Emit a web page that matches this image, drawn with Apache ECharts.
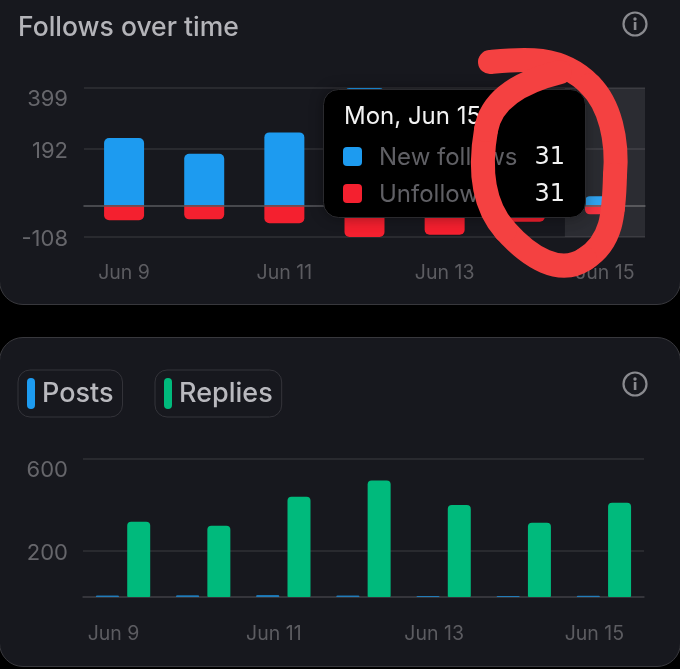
<!DOCTYPE html>
<html>
<head>
<meta charset="utf-8">
<style>
html,body{margin:0;padding:0;background:#000;width:680px;height:669px;overflow:hidden}
.card{position:absolute;left:-1px;width:680px;background:#17181e;border:1px solid #38383d;border-radius:24px;box-sizing:content-box}
#main{position:absolute;left:0;top:0;width:680px;height:669px}
</style>
<script src="https://cdn.jsdelivr.net/npm/echarts@6/dist/echarts.min.js"></script>
</head>
<body>
<div class="card" style="top:-40px;height:343px"></div>
<div class="card" style="top:337px;height:328px"></div>
<div id="main"></div>
<script>
const categories = ['Jun 9','Jun 10','Jun 11','Jun 12','Jun 13','Jun 14','Jun 15'];
const newFollows = [229,175,248,399,260,190,31];
const unfollows  = [-51,-48,-61,-108,-100,-56,-31];
const posts   = [6,8,9,6,4,4,5];
const replies = [327,310,436,506,400,323,410];
const followTicks = [-108,192,399];
const activityGridTicks = [0,200,600];
const activityLabelTicks = [200,600];
const tooltipDate = 'Mon, Jun 15';
const hoverIndex = 6;

const FONT = 'Inter';
const BLUE = '#1d9bf0', RED = '#f4202f', GREEN = '#00ba7c';
const ink = '#66666b', xink = '#5c5c61', line = '#313136';

const tipText = (x, y, text, fill, extra) => ({type:'text', z:101, x, y, style:Object.assign({
  text, fill, font:'400 24px '+FONT, textVerticalAlign:'middle'}, extra||{})});
const swatch = (y, fill) => ({type:'rect', z:101, shape:{x:343,y,width:19,height:19,r:4}, style:{fill}});
const info = (cx, cy) => ([
  {type:'circle', z:5, shape:{cx,cy,r:11.5}, style:{fill:'none',stroke:'#8a8a8f',lineWidth:2.2}},
  {type:'circle', z:5, shape:{cx,cy:cy-5,r:1.7}, style:{fill:'#8a8a8f'}},
  {type:'rect', z:5, shape:{x:cx-1.2,y:cy-2,width:2.6,height:8}, style:{fill:'#8a8a8f'}}
]);
// hand-drawn red annotation, as bezier segments [x1,y1,cp1x,cp1y,cp2x,cp2y,x2,y2]
const scribble = [
  [490,62,520,59,560,54,590,85],
  [590,85,610,105,618,140,615,175],
  [615,175,614,215,612,242,585,259],
  [585,259,560,276,530,258,505,230],
  [505,230,483,205,479,170,486,130],
  [486,130,491,100,520,82,560,72]
];

const pill = (name, left, width) => ({
  show:true, data:[name], left, top:370, width, height:47,
  orient:'horizontal', padding:[8,9,8,9], itemWidth:8, itemHeight:31,
  borderColor:'#34343a', borderWidth:1, borderRadius:12, selectedMode:false,
  icon:'path://M0 4a4 4 0 0 1 8 0v23a4 4 0 0 1-8 0z', symbolKeepAspect:false,
  itemStyle:{opacity:1},
  textStyle:{color:'#b9b9be', fontFamily:FONT, fontSize:27, fontWeight:500, padding:[3,4,0,2]}
});
const yLabel = (ticks, margin) => ({
  customValues:ticks, color:ink, fontFamily:FONT, fontSize:22, margin, verticalAlignMaxLabel:'top',
  formatter: v => v === Math.max(...ticks) ? '{max|' + v + '}' : '{mid|' + v + '}',
  rich:{
    max:{color:ink, fontFamily:FONT, fontSize:22},
    mid:{color:ink, fontFamily:FONT, fontSize:22, padding:[5,0,0,0]}
  }
});

const chart = echarts.init(document.getElementById('main'), null, {renderer:'canvas'});
chart.setOption({
  animation:false,
  backgroundColor:'transparent',
  title:{text:'Follows over time', left:18, top:15, padding:0,
    textStyle:{color:'#b4b4b9', fontFamily:FONT, fontSize:26.5, fontWeight:500}},
  legend:[pill('Posts',18,104), pill('Replies',155,126)],
  grid:[
    {left:84, right:35, top:88, height:149},
    {left:83, right:36, top:459, height:138}
  ],
  xAxis:[
    {type:'category', gridIndex:0, data:categories, z:3,
      axisLine:{lineStyle:{color:'#58585d',width:1.5}}, axisTick:{show:false},
      axisLabel:{interval:1, color:xink, fontFamily:FONT, fontSize:19.5, margin:26},
      axisPointer:{show:true, type:'shadow', status:'show', value:hoverIndex, triggerTooltip:false,
        label:{show:false}, shadowStyle:{color:'rgba(255,255,255,0.09)'}}},
    {type:'category', gridIndex:1, data:categories,
      axisLine:{lineStyle:{color:'#3a3a40',width:1.5}}, axisTick:{show:false},
      axisLabel:{interval:1, color:xink, fontFamily:FONT, fontSize:19.5, margin:27, padding:[0,19,0,0]}}
  ],
  yAxis:[
    {type:'value', gridIndex:0, min:-108, max:399,
      axisLine:{show:false},
      axisTick:{show:false, customValues:followTicks},
      axisLabel:yLabel(followTicks,16),
      splitLine:{lineStyle:{color:line,width:1.5}}},
    {type:'value', gridIndex:1, min:0, max:600,
      axisLine:{show:false},
      axisTick:{show:false, customValues:activityGridTicks},
      axisLabel:yLabel(activityLabelTicks,15),
      splitLine:{lineStyle:{color:line,width:1.5}}}
  ],
  series:[
    {name:'New follows', type:'bar', xAxisIndex:0, yAxisIndex:0, stack:'f', barWidth:40, data:newFollows,
      itemStyle:{color:BLUE, borderRadius:[5,5,0,0]}},
    {name:'Unfollows', type:'bar', xAxisIndex:0, yAxisIndex:0, stack:'f', barWidth:40, data:unfollows,
      itemStyle:{color:RED, borderRadius:[0,0,5,5]}},
    {name:'Posts', type:'bar', xAxisIndex:1, yAxisIndex:1, barWidth:23, barGap:'36%', data:posts,
      itemStyle:{color:BLUE, opacity:.7, borderRadius:[1,1,0,0]}},
    {name:'Replies', type:'bar', xAxisIndex:1, yAxisIndex:1, barWidth:23, barGap:'36%', data:replies,
      itemStyle:{color:GREEN, borderRadius:[4,4,1,1]}}
  ],
  graphic:[
    ...info(635,24), ...info(635,384),
    {type:'rect', z:100, shape:{x:323.5,y:89.5,width:262,height:128,r:15},
      style:{fill:'#000',stroke:'#2a2a2e',lineWidth:1,shadowBlur:14,shadowColor:'rgba(0,0,0,0.35)'}},
    tipText(344,117,tooltipDate,'#f2f2f2'),
    swatch(147,BLUE), swatch(184,RED),
    tipText(379,158,'New follows','#606065'),
    tipText(379,195,'Unfollows','#606065'),
    tipText(565,158,String(Math.abs(newFollows[hoverIndex])),'#f2f2f2',{textAlign:'right',font:'500 24px "DejaVu Sans"'}),
    tipText(565,195,String(Math.abs(unfollows[hoverIndex])),'#f2f2f2',{textAlign:'right',font:'500 24px "DejaVu Sans"'}),
    ...scribble.map(s => ({type:'bezierCurve', z:200,
      shape:{x1:s[0],y1:s[1],cpx1:s[2],cpy1:s[3],cpx2:s[4],cpy2:s[5],x2:s[6],y2:s[7]},
      style:{fill:'none',stroke:'#f44141',lineWidth:24,lineCap:'round'}}))
  ]
});
</script>
</body>
</html>
